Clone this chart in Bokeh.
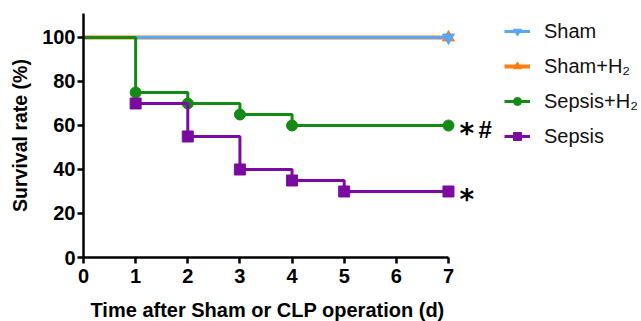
from bokeh.plotting import figure
from bokeh.models import Range1d, FixedTicker, Legend, LegendItem, Label, Title
from bokeh.embed import file_html
from bokeh.resources import INLINE

# ---- data ----
days_ticks = [0, 1, 2, 3, 4, 5, 6, 7]
y_ticks = [0, 20, 40, 60, 80, 100]

sham_x = [0, 7]
sham_y = [100, 100]
shamh2_x = [0, 7]
shamh2_y = [100, 100]
sepsish2_x = [0, 1, 2, 3, 4, 7]
sepsish2_y = [100, 75, 70, 65, 60, 60]
sepsis_x = [1, 2, 3, 4, 5, 7]
sepsis_y = [70, 55, 40, 35, 30, 30]

labels = ["Sham", "Sham+H\u2082", "Sepsis+H\u2082", "Sepsis"]
colors = ["#5aa5f7", "#ff7f0e", "#138a13", "#7b0aa0"]

FONT = "Liberation Sans"

W, H = 641, 321
left, right, top, bottom = 83, 0, 13, 63
fw = W - left - right
px_per_day = 52.14

p = figure(width=W, height=H, output_backend="svg", toolbar_location=None,
           x_range=Range1d(0, fw / px_per_day), y_range=Range1d(0, 110.9),
           min_border_left=left, min_border_right=right,
           min_border_top=top, min_border_bottom=bottom)
p.outline_line_color = None
p.grid.visible = False

for ax in (p.xaxis[0], p.yaxis[0]):
    ax.axis_line_width = 2.5
    ax.axis_line_color = "black"
    ax.major_tick_line_width = 2.5
    ax.major_tick_line_color = "black"
    ax.major_tick_out = 6
    ax.major_tick_in = 0
    ax.minor_tick_line_color = None
    ax.major_label_text_font = FONT
    ax.major_label_text_font_style = "bold"
    ax.major_label_text_font_size = "20px"
    ax.major_label_text_color = "black"

p.xaxis.ticker = FixedTicker(ticks=days_ticks)
p.xaxis.bounds = (0, 7)
p.xaxis.major_label_standoff = 5
# spacer label to push the title (real x label) a little lower
p.xaxis.axis_label = " "
p.xaxis.axis_label_text_font_size = "7px"
p.xaxis.axis_label_standoff = 0
p.yaxis.ticker = FixedTicker(ticks=y_ticks)
p.yaxis.major_label_standoff = 2
p.yaxis.axis_label = "Survival rate (%)"
p.yaxis.axis_label_text_font = FONT
p.yaxis.axis_label_text_font_style = "bold"
p.yaxis.axis_label_text_font_size = "19.5px"
p.yaxis.axis_label_text_color = "black"
p.yaxis.axis_label_standoff = 8

# x axis label, starting under the axis origin
xt = Title(text="Time after Sham or CLP operation (d)", align="left",
           offset=7, standoff=2,
           text_font=FONT, text_font_style="bold", text_font_size="20px",
           text_color="black")
p.add_layout(xt, "below")

lw = 3
r_o_line = p.line(shamh2_x, shamh2_y, line_color=colors[1], line_width=4)
r_o_mk = p.scatter(shamh2_x[-1:], shamh2_y[-1:], marker="triangle", size=12,
                   color=colors[1])
r_b_line = p.line(sham_x, sham_y, line_color=colors[0], line_width=lw)
r_b_mk = p.scatter(sham_x[-1:], sham_y[-1:], marker="inverted_triangle", size=12,
                   color=colors[0])

r_g_line = p.step(sepsish2_x, sepsish2_y, mode="after", line_color=colors[2], line_width=lw)
r_g_mk = p.scatter(sepsish2_x[1:], sepsish2_y[1:], marker="circle", size=11,
                   color=colors[2])

r_p_line = p.step(sepsis_x, sepsis_y, mode="after", line_color=colors[3], line_width=lw)
r_p_mk = p.scatter(sepsis_x, sepsis_y, marker="square", size=11, color=colors[3])

# significance marks
for yv in (sepsish2_y[-1], sepsis_y[-1]):
    p.add_layout(Label(x=7, y=yv, x_offset=11, y_offset=-8, text="*",
                       text_font="DejaVu Sans", text_font_style="bold",
                       text_font_size="28px", text_baseline="middle",
                       text_color="black"))
p.add_layout(Label(x=7, y=sepsish2_y[-1], x_offset=30, y_offset=-4, text="#",
                   text_font=FONT, text_font_style="bold", text_font_size="24px",
                   text_baseline="middle", text_color="black"))

legend = Legend(items=[
    LegendItem(label=labels[0], renderers=[r_b_line, r_b_mk]),
    LegendItem(label=labels[1], renderers=[r_o_line, r_o_mk]),
    LegendItem(label=labels[2], renderers=[r_g_line, r_g_mk]),
    LegendItem(label=labels[3], renderers=[r_p_line, r_p_mk]),
], location=(421, 109.5))
legend.border_line_color = None
legend.background_fill_alpha = 0
legend.padding = 0
legend.margin = 0
legend.spacing = 12
legend.glyph_width = 26
legend.glyph_height = 20
legend.label_height = 20
legend.label_standoff = 14
legend.label_text_font = FONT
legend.label_text_font_size = "20px"
legend.label_text_color = "#111111"
p.add_layout(legend)

open("out.html", "w").write(file_html(p, INLINE))
